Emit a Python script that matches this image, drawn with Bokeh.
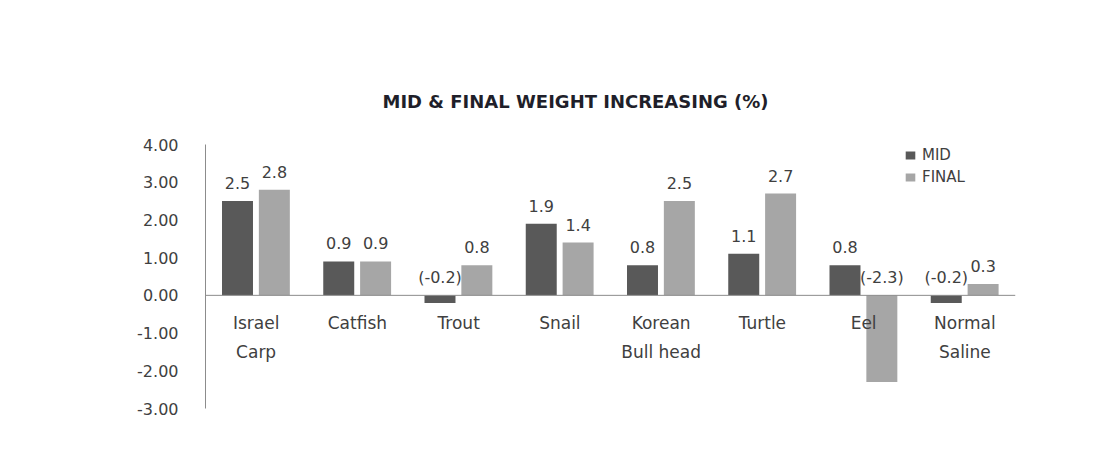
from bokeh.plotting import figure
from bokeh.models import ColumnDataSource, FactorRange, Range1d, FixedTicker, NumeralTickFormatter, Span, Legend, LegendItem
from bokeh.transform import dodge
from bokeh.core.properties import value
from bokeh.embed import file_html
from bokeh.resources import INLINE

categories = ["Israel Carp", "Catfish", "Trout", "Snail", "Korean Bull head", "Turtle", "Eel", "Normal Saline"]
label_line1 = ["Israel", "Catfish", "Trout", "Snail", "Korean", "Turtle", "Eel", "Normal"]
label_line2 = ["Carp", "", "", "", "Bull head", "", "", "Saline"]
mid = [2.5, 0.9, -0.2, 1.9, 0.8, 1.1, 0.8, -0.2]
final = [2.8, 0.9, 0.8, 1.4, 2.5, 2.7, -2.3, 0.3]
y_ticks = [-3, -2, -1, 0, 1, 2, 3, 4]

def fmt(v):
    return "(%.1f)" % v if v < 0 else "%.1f" % v

src = ColumnDataSource(dict(
    cat=categories, l1=label_line1, l2=label_line2,
    mid=mid, final=final,
    mid_lbl=[fmt(v) for v in mid], final_lbl=[fmt(v) for v in final],
    mid_y=[max(v, 0) for v in mid], final_y=[max(v, 0) for v in final],
))

FONT = "DejaVu Sans"
TXT = "#404040"
MID_C = "#595959"
FIN_C = "#a6a6a6"

p = figure(width=1088, height=458, x_range=FactorRange(*categories, range_padding=0),
           y_range=Range1d(-3, 4), output_backend="svg", toolbar_location=None,
           min_border_left=205, min_border_right=73, min_border_bottom=50, min_border_top=144,
           title="MID & FINAL WEIGHT INCREASING (%)")
p.title.align = "left"
p.title.offset = 177
p.title.standoff = 66
p.title.text_font = FONT
p.title.text_font_size = "18px"
p.title.text_font_style = "bold"
p.title.text_color = "#1f1f2a"

p.outline_line_color = None
p.xgrid.visible = False
p.ygrid.visible = False
p.xaxis.visible = False

ax = p.yaxis[0]
ax.ticker = FixedTicker(ticks=y_ticks)
ax.formatter = NumeralTickFormatter(format="0.00")
ax.major_tick_line_color = None
ax.minor_tick_line_color = None
ax.major_label_standoff = 21
ax.major_label_text_font = FONT
ax.major_label_text_font_size = "16px"
ax.major_label_text_color = TXT
ax.axis_line_color = "#8c8c8c"

r_mid = p.vbar(x=dodge("cat", -0.184, range=p.x_range), top="mid", bottom=0, width=0.306,
               source=src, fill_color=MID_C, line_color=None)
r_fin = p.vbar(x=dodge("cat", 0.18, range=p.x_range), top="final", bottom=0, width=0.306,
               source=src, fill_color=FIN_C, line_color=None)

p.add_layout(Span(location=0, dimension="width", line_color="#8c8c8c", line_width=1))

common = dict(text_font=value(FONT), text_color=TXT, text_align="center", text_baseline="middle")
p.text(x=dodge("cat", -0.184, range=p.x_range), y="mid_y", text="mid_lbl", source=src,
       y_offset=-18, text_font_size="16px", **common)
p.text(x=dodge("cat", 0.18, range=p.x_range), y="final_y", text="final_lbl", source=src,
       y_offset=-18, text_font_size="16px", **common)
p.text(x="cat", y=0, text="l1", source=src, y_offset=28, text_font_size="17px", **common)
p.text(x="cat", y=0, text="l2", source=src, y_offset=57, text_font_size="17px", **common)

legend = Legend(items=[LegendItem(label="MID", renderers=[r_mid]),
                       LegendItem(label="FINAL", renderers=[r_fin])],
                location=(699, 220), orientation="vertical")
legend.glyph_width = 12
legend.glyph_height = 10
legend.label_height = 22
legend.label_standoff = 6
legend.spacing = 0
legend.padding = 0
legend.margin = 0
legend.border_line_color = None
legend.background_fill_color = None
legend.label_text_font = FONT
legend.label_text_font_size = "15px"
legend.label_text_color = TXT
p.add_layout(legend)

open("out.html", "w").write(file_html(p, INLINE))
